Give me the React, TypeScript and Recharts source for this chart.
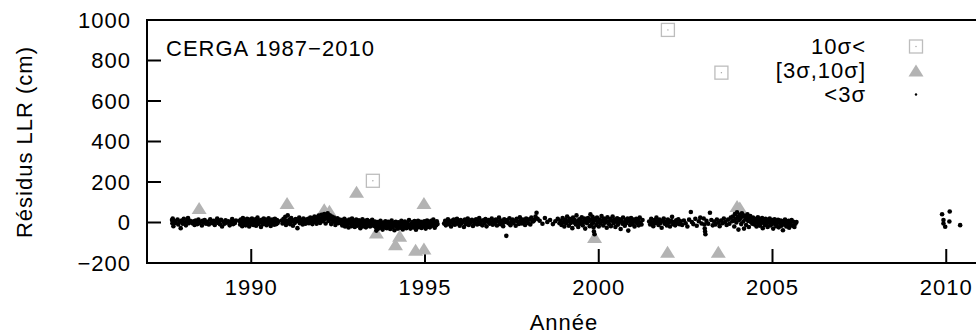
import React from 'react';
import { ScatterChart, Scatter, XAxis, YAxis, Customized } from 'recharts';

const FONT = '"Liberation Sans", Arial, Helvetica, sans-serif';

const yearTicks = [1990, 1995, 2000, 2005, 2010];
const residualTicks = [-200, 0, 200, 400, 600, 800, 1000];

const legendLabels = ['10σ<', '[3σ,10σ]', '<3σ'];

// [année, résidu en cm]
const over10Sigma = [
  [1993.5, 206], [2001.99, 951], [2003.53, 740],
];

const between3And10Sigma = [
  [1988.5, 71], [1991.03, 96], [1992.1, 66], [1992.25, 58], [1993.03, 152],
  [1993.6, -49], [1994.15, -107], [1994.27, -66], [1994.73, -135], [1994.97, -128],
  [1994.97, 96], [1999.88, -71], [2001.98, -145], [2003.44, -145], [2003.98, 82],
  [2004.06, 74],
];

const normal1987_1992 = [
  [1987.72, 12], [1987.73, -4], [1987.74, 20], [1987.75, 5], [1987.76, -18], [1987.78, 8],
  [1987.82, -2], [1987.88, 15], [1987.9, -10], [1987.93, 3], [1987.97, -28], [1988.0, 10],
  [1988.03, -6], [1988.06, 18], [1988.09, 0], [1988.12, -14], [1988.15, 7], [1988.18, 22],
  [1988.21, -3], [1988.24, 9],
  [1988.32, -5], [1988.34, 6], [1988.37, -12], [1988.4, 10], [1988.42, 2], [1988.45, -8],
  [1988.48, 14], [1988.5, -2], [1988.55, 4], [1988.58, -15], [1988.6, 8], [1988.63, 0],
  [1988.66, 12], [1988.7, -6], [1988.74, 3], [1988.78, -10], [1988.82, 16], [1988.85, 1],
  [1988.88, -4], [1988.92, 9], [1988.95, -12], [1988.98, 5], [1989.02, 20], [1989.05, -2],
  [1989.08, 7], [1989.1, -9], [1989.13, 13], [1989.16, -20], [1989.2, 4], [1989.23, -6],
  [1989.26, 11], [1989.3, -1], [1989.34, 6], [1989.38, -14], [1989.42, 2], [1989.45, 17],
  [1989.48, -8], [1989.5, 5], [1989.53, -3], [1989.56, 10],
  [1989.66, 8], [1989.68, -10], [1989.7, 15], [1989.72, 0], [1989.74, -18], [1989.76, 22],
  [1989.78, 5], [1989.8, -6], [1989.82, 12], [1989.84, -14], [1989.86, 3], [1989.88, 18],
  [1989.9, -2], [1989.92, 9], [1989.94, -20], [1989.96, 14], [1989.98, 1], [1990.0, -8],
  [1990.02, 20], [1990.04, 6], [1990.06, -12], [1990.08, 10], [1990.1, -3], [1990.12, 16],
  [1990.14, -16], [1990.16, 4], [1990.18, 24], [1990.2, -7], [1990.22, 11], [1990.24, -1],
  [1990.26, 7], [1990.28, -22], [1990.3, 13], [1990.32, 2], [1990.34, -9], [1990.36, 19],
  [1990.38, 5], [1990.4, -4], [1990.42, 15], [1990.44, -13], [1990.46, 8], [1990.48, 0],
  [1990.5, 21], [1990.52, -6], [1990.54, 10], [1990.56, -17], [1990.58, 3], [1990.6, 14],
  [1990.62, -2], [1990.64, 9], [1990.66, -11], [1990.68, 18], [1990.7, 4], [1990.72, -8],
  [1990.74, 12], [1990.76, -3], [1990.78, 6],
  [1990.88, 10], [1990.9, -5], [1990.93, 18], [1990.95, 2], [1990.98, 28], [1991.0, -12],
  [1991.02, 8], [1991.05, 35], [1991.07, 0], [1991.1, 14], [1991.12, -9], [1991.15, 22],
  [1991.18, 5], [1991.2, -16], [1991.22, 11], [1991.25, -2], [1991.28, 17], [1991.3, 6],
  [1991.33, -28], [1991.36, 9], [1991.38, 24], [1991.4, -4], [1991.43, 13], [1991.46, 1],
  [1991.48, -10], [1991.5, 19], [1991.53, 7], [1991.56, -6], [1991.58, 15], [1991.6, 3],
  [1991.62, 5], [1991.64, 18], [1991.66, -4], [1991.68, 12], [1991.7, 25], [1991.72, 0],
  [1991.74, 15], [1991.76, -8], [1991.78, 22], [1991.8, 8], [1991.82, 30], [1991.84, 3],
  [1991.86, 17], [1991.88, -6], [1991.9, 26], [1991.92, 10], [1991.94, 34], [1991.96, 14],
  [1991.98, -2], [1992.0, 20], [1992.02, 38], [1992.04, 6], [1992.06, 28], [1992.08, 12],
  [1992.1, 42], [1992.12, 18], [1992.14, -5], [1992.16, 32], [1992.18, 22], [1992.2, 45],
  [1992.22, 8], [1992.24, 26], [1992.26, 36], [1992.28, 14], [1992.3, -8], [1992.32, 30],
  [1992.34, 19], [1992.36, 4], [1992.38, 24], [1992.4, 10], [1992.42, -12], [1992.44, 16],
  [1992.46, 2], [1992.48, 21], [1992.5, -4], [1992.52, 9], [1992.54, 15],
];

const normal1992_1995 = [
  [1992.58, -2], [1992.6, 12], [1992.62, -15], [1992.64, 5], [1992.66, -8], [1992.68, 18],
  [1992.7, -20], [1992.72, 0], [1992.74, 10], [1992.76, -12], [1992.78, 3], [1992.8, -25],
  [1992.82, 14], [1992.84, -5], [1992.86, 7], [1992.88, -18], [1992.9, 20], [1992.92, -1],
  [1992.94, -10], [1992.96, 9], [1992.98, -22], [1993.0, 4], [1993.02, 15], [1993.04, -7],
  [1993.06, -16], [1993.08, 2], [1993.1, 11], [1993.12, -12], [1993.14, -28], [1993.16, 6],
  [1993.18, -4], [1993.2, 16], [1993.22, -19], [1993.24, 1], [1993.26, -9], [1993.28, 8],
  [1993.3, -24], [1993.32, -3], [1993.34, 12], [1993.36, -14], [1993.38, 3], [1993.4, -6],
  [1993.42, -20], [1993.44, 7], [1993.46, -11], [1993.48, 13], [1993.5, -2], [1993.52, -16],
  [1993.54, -8], [1993.56, 5], [1993.58, -22], [1993.6, -40], [1993.62, -12], [1993.64, 2],
  [1993.66, -30], [1993.68, -5], [1993.7, -18], [1993.72, 8], [1993.74, -26], [1993.76, -10],
  [1993.78, -35], [1993.8, 0], [1993.82, -15], [1993.84, -22], [1993.86, 6], [1993.88, -8],
  [1993.9, -28], [1993.92, -14], [1993.94, 3], [1993.96, -20], [1993.98, -6], [1994.0, -32],
  [1994.02, -12], [1994.04, 10], [1994.06, -24], [1994.08, -3], [1994.1, -16], [1994.12, -38],
  [1994.14, -9], [1994.16, 4], [1994.18, -21], [1994.2, -13], [1994.22, -30], [1994.24, 1],
  [1994.26, -18], [1994.28, -7], [1994.3, -26], [1994.32, 8], [1994.34, -11], [1994.36, -34],
  [1994.38, -4], [1994.4, -19], [1994.42, 5], [1994.44, -15], [1994.46, -28], [1994.48, -1],
  [1994.5, -22], [1994.52, -10], [1994.54, 12], [1994.56, -17], [1994.58, -30], [1994.6, -6],
  [1994.62, -14], [1994.64, 2], [1994.66, -25], [1994.68, -9], [1994.7, 7], [1994.72, -20],
  [1994.74, -36], [1994.76, -3], [1994.78, -12], [1994.8, 9], [1994.82, -23], [1994.84, -8],
  [1994.86, -16], [1994.88, 4], [1994.9, -27], [1994.92, -11], [1994.94, 0], [1994.96, -19],
  [1994.98, 6], [1995.0, -14], [1995.02, -30], [1995.04, -2], [1995.06, 10], [1995.08, -21],
  [1995.1, -7], [1995.12, 3], [1995.14, -24], [1995.16, -12], [1995.18, 8], [1995.2, -16],
  [1995.22, -4], [1995.24, 14], [1995.26, -10], [1995.28, -26], [1995.3, 0], [1995.32, -14],
  [1995.34, 6], [1995.36, -8],
];

const normal1995_1999 = [
  [1995.55, -5], [1995.58, 8], [1995.6, -14], [1995.63, 2], [1995.66, 16], [1995.69, -9],
  [1995.72, 4], [1995.75, -20], [1995.78, 10], [1995.8, -2], [1995.83, 14], [1995.86, -11],
  [1995.89, 0], [1995.92, 18], [1995.95, -6], [1995.98, 7], [1996.0, -16], [1996.03, 12],
  [1996.06, -3], [1996.09, 5], [1996.12, -22], [1996.15, 15], [1996.18, -8], [1996.2, 3],
  [1996.23, 20], [1996.26, -12], [1996.29, 6], [1996.32, -1], [1996.35, 13], [1996.38, -17],
  [1996.41, 9], [1996.44, -4], [1996.47, 16], [1996.5, -10], [1996.53, 2], [1996.56, 22],
  [1996.59, -7], [1996.62, 8], [1996.65, -14], [1996.68, 11], [1996.71, -2], [1996.74, 17],
  [1996.77, -19], [1996.8, 4], [1996.83, 12], [1996.86, -6], [1996.89, 1], [1996.92, 19],
  [1996.95, -11], [1996.98, 7], [1997.01, -3], [1997.04, 14], [1997.07, -15], [1997.1, 5],
  [1997.13, 24], [1997.16, -8], [1997.19, 10], [1997.22, 0], [1997.25, -18], [1997.28, 16],
  [1997.31, 3], [1997.34, -66], [1997.37, 12], [1997.4, -4], [1997.43, 21], [1997.46, -13],
  [1997.49, 6], [1997.52, 15], [1997.55, -2], [1997.58, 9], [1997.61, -16], [1997.64, 18],
  [1997.67, 4], [1997.7, -7], [1997.73, 26], [1997.76, 11], [1997.79, -5], [1997.82, 14],
  [1997.85, 1], [1997.88, -12], [1997.91, 20], [1997.94, 8], [1997.97, -3], [1998.0, 16],
  [1998.03, -10], [1998.06, 24], [1998.09, 5], [1998.12, 6], [1998.15, 13], [1998.18, 30],
  [1998.21, 48], [1998.24, 18], [1998.3, 9], [1998.38, -6], [1998.45, 22], [1998.52, 3],
  [1998.6, 12], [1998.68, -8], [1998.75, 6], [1998.82, 18], [1998.87, -4],
];

const normal1999_2002 = [
  [1998.9, 8], [1998.93, -12], [1998.96, 22], [1998.99, 2], [1999.01, -20], [1999.04, 14],
  [1999.06, -4], [1999.09, 30], [1999.11, 6], [1999.14, -16], [1999.16, 18], [1999.19, -2],
  [1999.21, 10], [1999.24, -28], [1999.26, 24], [1999.29, 0], [1999.31, 12], [1999.34, -10],
  [1999.36, 35], [1999.39, 4], [1999.41, -22], [1999.44, 16], [1999.46, -6], [1999.49, 8],
  [1999.51, 26], [1999.54, -14], [1999.56, 2], [1999.59, 19], [1999.61, -30], [1999.64, 11],
  [1999.66, -3], [1999.69, 22], [1999.71, 6], [1999.74, -18], [1999.76, 40], [1999.78, 14],
  [1999.8, -8], [1999.82, 28], [1999.84, 0], [1999.85, -25], [1999.86, -45], [1999.87, 18],
  [1999.88, -58], [1999.9, 10], [1999.93, -12], [1999.95, 24], [1999.98, 3], [2000.0, -20],
  [2000.03, 15], [2000.05, -5], [2000.08, 32], [2000.1, 7], [2000.13, -15], [2000.15, 20],
  [2000.18, -1], [2000.2, 12], [2000.23, -26], [2000.25, 26], [2000.28, 4], [2000.3, -9],
  [2000.33, 17], [2000.35, -18], [2000.38, 9], [2000.4, 30], [2000.43, -4], [2000.45, 14],
  [2000.48, -22], [2000.5, 6], [2000.53, 21], [2000.55, -11], [2000.58, 2], [2000.6, 16],
  [2000.63, -32], [2000.65, 10], [2000.68, -6], [2000.7, 25], [2000.73, 1], [2000.75, -16],
  [2000.78, 13], [2000.8, -2], [2000.83, 19], [2000.85, -40], [2000.88, 8], [2000.9, -12],
  [2000.93, 22], [2000.95, 4], [2000.98, -8], [2001.0, 15], [2001.03, -20], [2001.05, 6],
  [2001.08, 18], [2001.1, -4], [2001.13, 10], [2001.15, -14], [2001.18, 24], [2001.2, 0],
  [2001.23, -10], [2001.26, 12],
  [2001.45, 5], [2001.48, -10], [2001.51, 18], [2001.54, 0], [2001.57, -18], [2001.6, 12],
  [2001.63, -4], [2001.66, 24], [2001.69, 6], [2001.72, -12], [2001.75, 15], [2001.78, -2],
  [2001.81, -26], [2001.84, 9], [2001.87, 20], [2001.9, -6], [2001.93, 3], [2001.96, -15],
  [2001.99, 14], [2002.02, -1], [2002.05, -20], [2002.08, 8], [2002.11, 28], [2002.14, -8],
  [2002.17, 4], [2002.2, -14], [2002.23, 11], [2002.26, -3], [2002.29, 16], [2002.32, -9],
];

const normal2002_2006 = [
  [2002.36, 6], [2002.4, -12], [2002.45, 10], [2002.5, -4], [2002.55, -20], [2002.6, 14],
  [2002.65, 52], [2002.68, 2], [2002.72, -8], [2002.78, 18], [2002.82, -16], [2002.88, 6],
  [2002.92, 24], [2002.96, -5], [2003.02, 20], [2003.04, -10], [2003.05, -30], [2003.06, -45],
  [2003.07, -58], [2003.1, 8], [2003.15, -6], [2003.2, 48], [2003.24, 12], [2003.28, -14],
  [2003.32, 5], [2003.36, -10], [2003.4, 15], [2003.44, 0], [2003.48, -18], [2003.52, 10],
  [2003.56, -4], [2003.6, 20], [2003.64, 2], [2003.68, -12], [2003.72, 14], [2003.76, -6],
  [2003.8, 24], [2003.84, 6],
  [2003.86, 30], [2003.88, 10], [2003.9, -20], [2003.92, 42], [2003.94, 18], [2003.96, 0],
  [2003.98, 50], [2004.0, 28], [2004.02, -35], [2004.04, 12], [2004.06, 38], [2004.08, 22],
  [2004.1, -8], [2004.12, 46], [2004.14, 30], [2004.16, 5], [2004.18, -30], [2004.2, 34],
  [2004.22, 16], [2004.24, -12], [2004.26, 26], [2004.28, 40], [2004.3, 8], [2004.32, -22],
  [2004.34, 20], [2004.36, 32], [2004.38, 2], [2004.4, 14], [2004.42, -6], [2004.44, 24],
  [2004.46, 8], [2004.48, -10], [2004.5, 18], [2004.52, 0], [2004.54, -20], [2004.56, 12],
  [2004.58, 26], [2004.6, -5], [2004.62, 6], [2004.64, -16], [2004.66, 15], [2004.68, -2],
  [2004.7, 22], [2004.72, -28], [2004.74, 4], [2004.76, 10], [2004.78, -12], [2004.8, 18],
  [2004.82, -6], [2004.84, 2], [2004.86, -22], [2004.88, 14], [2004.9, -1], [2004.92, 20],
  [2004.94, -14], [2004.96, 6], [2004.98, -8], [2005.0, 12], [2005.02, -30], [2005.04, 3],
  [2005.06, 16], [2005.08, -10], [2005.1, 8], [2005.12, -18], [2005.14, 0], [2005.16, 13],
  [2005.18, -24], [2005.2, 5], [2005.22, -6], [2005.24, 10], [2005.26, -16], [2005.28, 2],
  [2005.3, -38], [2005.32, 7], [2005.34, -10], [2005.36, 14], [2005.38, -3], [2005.4, -20],
  [2005.42, 6], [2005.44, -12], [2005.46, 9], [2005.48, -26], [2005.5, 0], [2005.52, -8],
  [2005.55, 12], [2005.58, -16], [2005.6, 4], [2005.63, -22], [2005.66, -6], [2005.69, 2],
];

const normal2010 = [
  [2009.88, 41], [2009.92, 12], [2009.92, -5], [2009.97, -21], [2010.09, 5], [2010.1, 54],
  [2010.4, -13],
];

const toPoints = (rows: number[][]) => rows.map(([t, r]) => ({ t, r }));

const squares = toPoints(over10Sigma);
const triangles = toPoints(between3And10Sigma);
const dots = toPoints([
  ...normal1987_1992, ...normal1992_1995, ...normal1995_1999,
  ...normal1999_2002, ...normal2002_2006, ...normal2010,
]);

const textStyle = { fontFamily: FONT, fontSize: 22, letterSpacing: 1, fill: '#000' };

const SquareMark = ({ cx, cy }: any) => (
  <g>
    <rect x={cx - 6.5} y={cy - 6.5} width={13} height={13} fill="none" stroke="#bdbdbd" strokeWidth={1.3} />
    <circle cx={cx} cy={cy} r={0.7} fill="#a0a0a0" />
  </g>
);

const TriangleMark = ({ cx, cy }: any) => (
  <polygon points={`${cx},${cy - 6} ${cx - 7.5},${cy + 6} ${cx + 7.5},${cy + 6}`} fill="#b3b3b3" />
);

// the <3σ series is very dense, so each point is drawn a bit fatter
const DotMark = ({ cx, cy }: any) => <circle cx={cx} cy={cy} r={2.3} fill="#000" />;
const LegendDot = ({ cx, cy }: any) => <circle cx={cx} cy={cy} r={1.2} fill="#000" />;

const legendMarks = [SquareMark, TriangleMark, LegendDot];

const minus = (v: number) => String(v).replace('-', '−');

const Annotations = () => (
  <g>
    <text x={166} y={56} {...textStyle}>CERGA 1987−2010</text>
    <text transform="translate(32,142) rotate(-90)" textAnchor="middle" {...textStyle}>Résidus LLR (cm)</text>
    <text x={564} y={330} textAnchor="middle" {...textStyle}>Année</text>
    {legendLabels.map((label, i) => {
      const Mark = legendMarks[i];
      return (
        <g key={label}>
          <text x={866} y={54 + i * 24} textAnchor="end" {...textStyle}>{label}</text>
          <Mark cx={916} cy={46.5 + i * 24} />
        </g>
      );
    })}
  </g>
);

const axisLine = { stroke: '#000', strokeWidth: 2, strokeLinecap: 'square' as const };
const tickLine = { stroke: '#000', strokeWidth: 2 };
const tickText = { fill: '#000', fontSize: 22, fontFamily: FONT, letterSpacing: 1 };

export default function App() {
  return (
    <div style={{ position: 'absolute', left: 0, top: 0, width: 976, height: 334, overflow: 'hidden', background: '#fff' }}>
      <ScatterChart width={1000} height={334} margin={{ top: 19, right: 18, bottom: 21, left: 0 }}>
        <XAxis
          type="number" dataKey="t" domain={[1987, 2011]} ticks={yearTicks} interval={0}
          allowDataOverflow height={50} axisLine={axisLine} tickLine={tickLine}
          tickSize={-14} tickMargin={30} tick={tickText}
        />
        <XAxis
          xAxisId="top" orientation="top" type="number" domain={[1987, 2011]} ticks={yearTicks}
          interval={0} allowDataOverflow height={1} axisLine={axisLine} tickLine={tickLine}
          tickSize={-14} tick={false}
        />
        <YAxis
          type="number" dataKey="r" domain={[-200, 1000]} ticks={residualTicks} interval={0}
          allowDataOverflow width={147} axisLine={axisLine} tickLine={tickLine}
          tickSize={-14} tickMargin={30} tick={tickText} tickFormatter={minus}
        />
        <YAxis
          yAxisId="right" orientation="right" type="number" domain={[-200, 1000]} ticks={residualTicks}
          interval={0} allowDataOverflow width={1} axisLine={axisLine} tickLine={tickLine}
          tickSize={-14} tick={false}
        />
        <Scatter name="10σ<" data={squares} shape={SquareMark} isAnimationActive={false} />
        <Scatter name="[3σ,10σ]" data={triangles} shape={TriangleMark} isAnimationActive={false} />
        <Scatter name="<3σ" data={dots} shape={DotMark} isAnimationActive={false} />
        <Customized component={Annotations} />
      </ScatterChart>
    </div>
  );
}
